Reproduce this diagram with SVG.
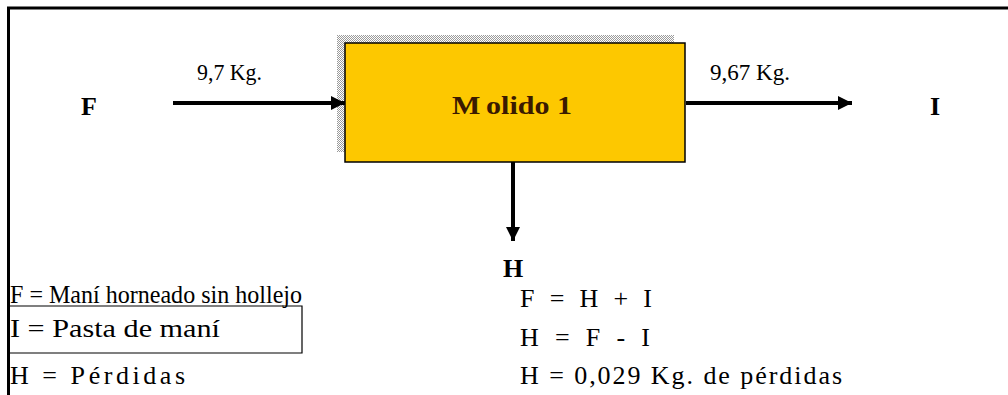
<svg xmlns="http://www.w3.org/2000/svg" width="1008" height="395" viewBox="0 0 1008 395">
  <defs>
    <pattern id="hatch" width="2" height="2" patternUnits="userSpaceOnUse">
      <rect width="2" height="2" fill="#ffffff"/>
      <rect width="1" height="1" fill="#9a9a9a"/>
      <rect x="1" y="1" width="1" height="1" fill="#9a9a9a"/>
    </pattern>
    <marker id="arrow" viewBox="0 0 10 10" refX="10" refY="5" markerWidth="18" markerHeight="14" markerUnits="userSpaceOnUse" orient="auto">
      <path d="M0,0 L10,5 L0,10 Z" fill="#000"/>
    </marker>
    <style>
      text { font-family: 'Liberation Serif', 'DejaVu Serif', serif; fill: #000; }
      .b { font-weight: bold; font-size: 26px; }
      .lbl { font-size: 24px; }
      .eq { font-size: 26px; }
      .conn { stroke: #000; stroke-width: 4; fill: none; marker-end: url(#arrow); }
    </style>
  </defs>

  <rect width="1008" height="395" fill="#ffffff"/>

  <!-- frame -->
  <g id="frame" stroke="#000" stroke-width="3" fill="none">
    <line x1="7" y1="8" x2="1008" y2="8"/>
    <line x1="8.5" y1="7" x2="8.5" y2="395"/>
  </g>

  <!-- process block with offset shadow -->
  <g id="molido">
    <rect x="337" y="35" width="337" height="117" fill="url(#hatch)"/>
    <rect x="345" y="43" width="340" height="119" fill="#fdc800" stroke="#000" stroke-width="1.5"/>
    <text class="b" x="452" y="114" font-size="30" textLength="120" lengthAdjust="spacingAndGlyphs" style="fill:#3a1a00">M<tspan dx="5">olido 1</tspan></text>
  </g>

  <!-- connectors -->
  <g id="connectors">
    <line class="conn" x1="173" y1="103" x2="345" y2="103"/>
    <line class="conn" x1="686" y1="103" x2="852" y2="103"/>
    <line class="conn" x1="513" y1="162" x2="513" y2="241"/>
  </g>

  <!-- stream labels -->
  <g id="stream-F">
    <text class="b" x="81" y="115">F</text>
    <text class="lbl" x="197" y="80" textLength="65" lengthAdjust="spacingAndGlyphs">9,7 Kg.</text>
  </g>
  <g id="stream-I">
    <text class="b" x="930" y="115">I</text>
    <text class="lbl" x="710" y="80" textLength="80" lengthAdjust="spacingAndGlyphs">9,67 Kg.</text>
  </g>
  <g id="stream-H">
    <text class="b" x="513" y="277" text-anchor="middle">H</text>
  </g>

  <!-- legend -->
  <g id="legend">
    <polyline points="10,306 302,306 302,353 10,353" stroke="#000" stroke-width="1.2" fill="none"/>
    <text class="eq" x="10" y="303" textLength="292" lengthAdjust="spacingAndGlyphs">F =  Maní horneado sin hollejo</text>
    <text class="eq" x="10" y="337" textLength="210" lengthAdjust="spacingAndGlyphs">I = Pasta de maní</text>
    <text class="eq" x="10" y="384" textLength="175" lengthAdjust="spacing">H =  Pérdidas</text>
  </g>

  <!-- balance equations -->
  <g id="balance">
    <text class="eq" x="520" y="307" textLength="132" lengthAdjust="spacing">F =  H  + I</text>
    <text class="eq" x="520" y="346" textLength="130" lengthAdjust="spacing">H =  F  -  I</text>
    <text class="eq" x="520" y="384" textLength="322" lengthAdjust="spacing">H =  0,029 Kg. de pérdidas</text>
  </g>
</svg>
